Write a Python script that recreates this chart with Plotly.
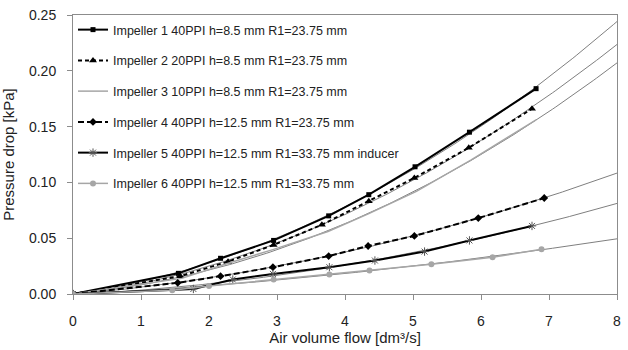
import numpy as np
import plotly.graph_objects as go

names = [
    "Impeller 1 40PPI h=8.5 mm R1=23.75 mm",
    "Impeller 2 20PPI h=8.5 mm R1=23.75 mm",
    "Impeller 3 10PPI h=8.5 mm R1=23.75 mm",
    "Impeller 4 40PPI h=12.5 mm R1=23.75 mm",
    "Impeller 5 40PPI h=12.5 mm R1=33.75 mm inducer",
    "Impeller 6 40PPI h=12.5 mm R1=33.75 mm",
]

x1 = [0, 1.55, 2.17, 2.95, 3.76, 4.35, 5.03, 5.83, 6.81]
y1 = [0, 0.0185, 0.032, 0.048, 0.070, 0.089, 0.114, 0.145, 0.184]

x2 = [0, 1.58, 2.28, 2.95, 3.66, 4.35, 5.02, 5.82, 6.75]
y2 = [0, 0.016, 0.029, 0.044, 0.062, 0.083, 0.104, 0.131, 0.166]

x3 = [0, 1.6, 2.2, 2.95, 3.75, 4.35, 5.05, 5.85, 6.81]
y3 = [0, 0.014, 0.026, 0.040, 0.056, 0.072, 0.092, 0.120, 0.156]

x4 = [0, 1.54, 2.17, 2.94, 3.76, 4.34, 5.02, 5.96, 6.93]
y4 = [0, 0.010, 0.016, 0.024, 0.034, 0.043, 0.052, 0.068, 0.086]

x5 = [0, 1.77, 2.35, 2.94, 3.77, 4.44, 5.17, 5.83, 6.75]
y5 = [0, 0.0045, 0.013, 0.018, 0.024, 0.030, 0.038, 0.048, 0.061]

x6 = [0, 1.46, 2.0, 2.95, 3.77, 4.36, 5.27, 6.17, 6.89]
y6 = [0, 0.0033, 0.0072, 0.013, 0.0175, 0.021, 0.0266, 0.033, 0.040]

xs = [x1, x2, x3, x4, x5, x6]
ys = [y1, y2, y3, y4, y5, y6]

styles = [
    dict(line=dict(color="black", width=2), marker=dict(symbol="square", size=5, color="black"), mode="lines+markers"),
    dict(line=dict(color="black", width=2, dash="4px,3px"), marker=dict(symbol="triangle-up", size=7, color="black"), mode="lines+markers"),
    dict(line=dict(color="#a6a6a6", width=1.5), marker=dict(symbol="circle", size=2, color="#a6a6a6"), mode="lines"),
    dict(line=dict(color="black", width=2, dash="6px,3px"), marker=dict(symbol="diamond", size=6, color="black"), mode="lines+markers"),
    dict(line=dict(color="black", width=2), marker=dict(symbol="asterisk-open", size=7, color="#555555", line=dict(width=1, color="#555555")), mode="lines+markers"),
    dict(line=dict(color="#a6a6a6", width=1.5), marker=dict(symbol="circle", size=6, color="#a6a6a6"), mode="lines+markers"),
]

fig = go.Figure()

# polynomial (order 2) trendlines fitted to each series, drawn 0..8
xt = np.linspace(0, 8, 161)
for x, y in zip(xs, ys):
    c = np.polyfit(x, y, 2)
    fig.add_trace(go.Scatter(x=xt, y=np.polyval(c, xt), mode="lines",
                             line=dict(color="#7f7f7f", width=1),
                             showlegend=False, hoverinfo="skip"))

for i, (x, y) in enumerate(zip(xs, ys)):
    fig.add_trace(go.Scatter(x=x, y=y, name=names[i], legendgroup=f"g{i}", **styles[i]))

axis_common = dict(
    showgrid=False, zeroline=False, showline=True, linecolor="#8c8c8c", linewidth=1,
    mirror=True, ticks="outside", ticklen=5, tickcolor="#8c8c8c",
    tickfont=dict(size=14, color="#222"), ticklabeloverflow="allow",
)

fig.update_layout(
    width=628, height=350,
    margin=dict(l=73, r=10, t=7, b=55),
    paper_bgcolor="white", plot_bgcolor="white",
    font=dict(family="Liberation Sans, Arial, sans-serif", color="#222"),
    xaxis=dict(range=[0, 8], dtick=1, ticklabelstandoff=9,
               title=dict(text="Air volume flow [dm³/s]", font=dict(size=15), standoff=4), **axis_common),
    yaxis=dict(range=[0, 0.25], dtick=0.05, tickformat=".2f", ticklabelstandoff=8,
               title=dict(text="Pressure drop [kPa]", font=dict(size=15), standoff=10), **axis_common),
    legend=dict(x=0.0, y=1.0, xanchor="left", yanchor="top", bgcolor="rgba(255,255,255,0)",
                font=dict(size=12.5, color="#222"), tracegroupgap=11.5, itemwidth=30),
)

fig.write_html("out.html")
